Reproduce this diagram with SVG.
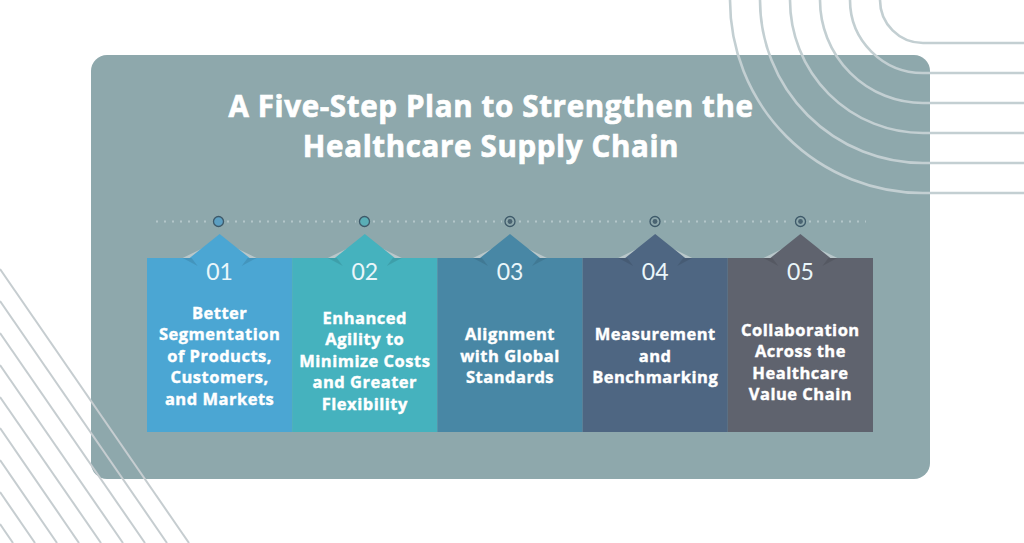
<svg xmlns="http://www.w3.org/2000/svg" width="1024" height="543" viewBox="0 0 1024 543">
<defs>
<style>
.deco{fill:none;stroke:#c3cfd2;stroke-width:2.6}
.diag{fill:none;stroke:#c6cdd0;stroke-width:2}
.title{font-family:"Open Sans",sans-serif;font-weight:700;font-size:29.5px;letter-spacing:0.65px;fill:#ffffff;stroke:#ffffff;stroke-width:0.7;text-anchor:middle}
.num{font-family:Lato,"Open Sans",sans-serif;font-weight:400;font-size:23px;fill:#eaf6fa;text-anchor:middle}
.body{font-family:"Open Sans",sans-serif;font-weight:700;font-size:16.5px;letter-spacing:0.5px;fill:#ffffff;stroke:#ffffff;stroke-width:0.4;text-anchor:middle}
.flap{fill:#b9c7ca}
.shadow{fill:#000;opacity:0.1}
.ring{stroke:#3e5a6a;stroke-width:1.3}
.dots{stroke:#b3c6c9;stroke-width:2;stroke-dasharray:2 6;fill:none}
</style>
</defs>
<rect width="1024" height="543" fill="#ffffff"/>
<rect id="panel" x="91" y="55" width="839" height="424" rx="16" fill="#8ea8ac"/>
<g id="arcs">
<path class="deco" d="M880 0A43 43 0 0 0 923 43L1024 43"/>
<path class="deco" d="M850 0A73 73 0 0 0 923 73L1024 73"/>
<path class="deco" d="M820 0A103 103 0 0 0 923 103L1024 103"/>
<path class="deco" d="M790 0A133 133 0 0 0 923 133L1024 133"/>
<path class="deco" d="M760 0A163 163 0 0 0 923 163L1024 163"/>
<path class="deco" d="M730 0A193 193 0 0 0 923 193L1024 193"/>
</g>
<g id="diagonals">
<line class="diag" x1="0" y1="269" x2="189" y2="543"/>
<line class="diag" x1="0" y1="301" x2="167" y2="543"/>
<line class="diag" x1="0" y1="333" x2="145" y2="543"/>
<line class="diag" x1="0" y1="365" x2="123" y2="543"/>
<line class="diag" x1="0" y1="397" x2="101" y2="543"/>
<line class="diag" x1="0" y1="428" x2="79" y2="543"/>
<line class="diag" x1="0" y1="460" x2="57" y2="543"/>
<line class="diag" x1="0" y1="492" x2="35" y2="543"/>
<line class="diag" x1="0" y1="524" x2="13" y2="543"/>
</g>
<g id="title">
<text class="title" x="491" y="117">A Five-Step Plan to Strengthen the</text>
<text class="title" x="491" y="157">Healthcare Supply Chain</text>
</g>
<g id="connectors">
<line class="dots" x1="156" y1="221.5" x2="210" y2="221.5"/>
<line class="dots" x1="227" y1="221.5" x2="356" y2="221.5"/>
<line class="dots" x1="373" y1="221.5" x2="502" y2="221.5"/>
<line class="dots" x1="519" y1="221.5" x2="647" y2="221.5"/>
<line class="dots" x1="664" y1="221.5" x2="792" y2="221.5"/>
<line class="dots" x1="809" y1="221.5" x2="866" y2="221.5"/>
</g>
<g id="step1">
<circle class="ring" cx="218.5" cy="221.5" r="5" fill="#5c9fc2"/>
<polygon class="flap" points="182.6,258 219.6,240 256.6,258"/>
<polygon points="189.6,258 219.6,234 249.6,258" fill="#4ba6d3"/>
<rect x="147" y="258" width="145.2" height="174" fill="#4ba6d3"/>
<polygon class="shadow" points="182.6,258 191.6,258 197.6,266"/>
<polygon class="shadow" points="256.6,258 247.6,258 241.6,266"/>
<text class="num" x="219.6" y="280">01</text>
<text class="body" x="219.6" y="318.5">Better</text>
<text class="body" x="219.6" y="340">Segmentation</text>
<text class="body" x="219.6" y="361.5">of Products,</text>
<text class="body" x="219.6" y="383">Customers,</text>
<text class="body" x="219.6" y="404.5">and Markets</text>
</g>
<g id="step2">
<circle class="ring" cx="364.5" cy="221.5" r="5" fill="#5aaeb6"/>
<polygon class="flap" points="327.8,258 364.8,240 401.8,258"/>
<polygon points="334.8,258 364.8,234 394.8,258" fill="#45b2be"/>
<rect x="292.2" y="258" width="145.2" height="174" fill="#45b2be"/>
<polygon class="shadow" points="327.8,258 336.8,258 342.8,266"/>
<polygon class="shadow" points="401.8,258 392.8,258 386.8,266"/>
<text class="num" x="364.8" y="280">02</text>
<text class="body" x="364.8" y="323.5">Enhanced</text>
<text class="body" x="364.8" y="345">Agility to</text>
<text class="body" x="364.8" y="366.5">Minimize Costs</text>
<text class="body" x="364.8" y="388">and Greater</text>
<text class="body" x="364.8" y="409.5">Flexibility</text>
</g>
<g id="step3">
<circle class="ring" cx="510" cy="221.5" r="5" fill="#8ea8ac"/>
<circle cx="510" cy="221.5" r="2.4" fill="#4a6472"/>
<polygon class="flap" points="473,258 510,240 547,258"/>
<polygon points="480,258 510,234 540,258" fill="#4887a5"/>
<rect x="437.4" y="258" width="145.2" height="174" fill="#4887a5"/>
<polygon class="shadow" points="473,258 482,258 488,266"/>
<polygon class="shadow" points="547,258 538,258 532,266"/>
<text class="num" x="510" y="280">03</text>
<text class="body" x="510" y="340">Alignment</text>
<text class="body" x="510" y="361.5">with Global</text>
<text class="body" x="510" y="383">Standards</text>
</g>
<g id="step4">
<circle class="ring" cx="655" cy="221.5" r="5" fill="#8ea8ac"/>
<circle cx="655" cy="221.5" r="2.4" fill="#4a6472"/>
<polygon class="flap" points="618.2,258 655.2,240 692.2,258"/>
<polygon points="625.2,258 655.2,234 685.2,258" fill="#4e6682"/>
<rect x="582.6" y="258" width="145.2" height="174" fill="#4e6682"/>
<polygon class="shadow" points="618.2,258 627.2,258 633.2,266"/>
<polygon class="shadow" points="692.2,258 683.2,258 677.2,266"/>
<text class="num" x="655.2" y="280">04</text>
<text class="body" x="655.2" y="340">Measurement</text>
<text class="body" x="655.2" y="361.5">and</text>
<text class="body" x="655.2" y="383">Benchmarking</text>
</g>
<g id="step5">
<circle class="ring" cx="800.5" cy="221.5" r="5" fill="#8ea8ac"/>
<circle cx="800.5" cy="221.5" r="2.4" fill="#4a6472"/>
<polygon class="flap" points="763.4,258 800.4,240 837.4,258"/>
<polygon points="770.4,258 800.4,234 830.4,258" fill="#5f636e"/>
<rect x="727.8" y="258" width="145.2" height="174" fill="#5f636e"/>
<polygon class="shadow" points="763.4,258 772.4,258 778.4,266"/>
<polygon class="shadow" points="837.4,258 828.4,258 822.4,266"/>
<text class="num" x="800.4" y="280">05</text>
<text class="body" x="800.4" y="335.5">Collaboration</text>
<text class="body" x="800.4" y="357">Across the</text>
<text class="body" x="800.4" y="378.5">Healthcare</text>
<text class="body" x="800.4" y="400">Value Chain</text>
</g>
</svg>
